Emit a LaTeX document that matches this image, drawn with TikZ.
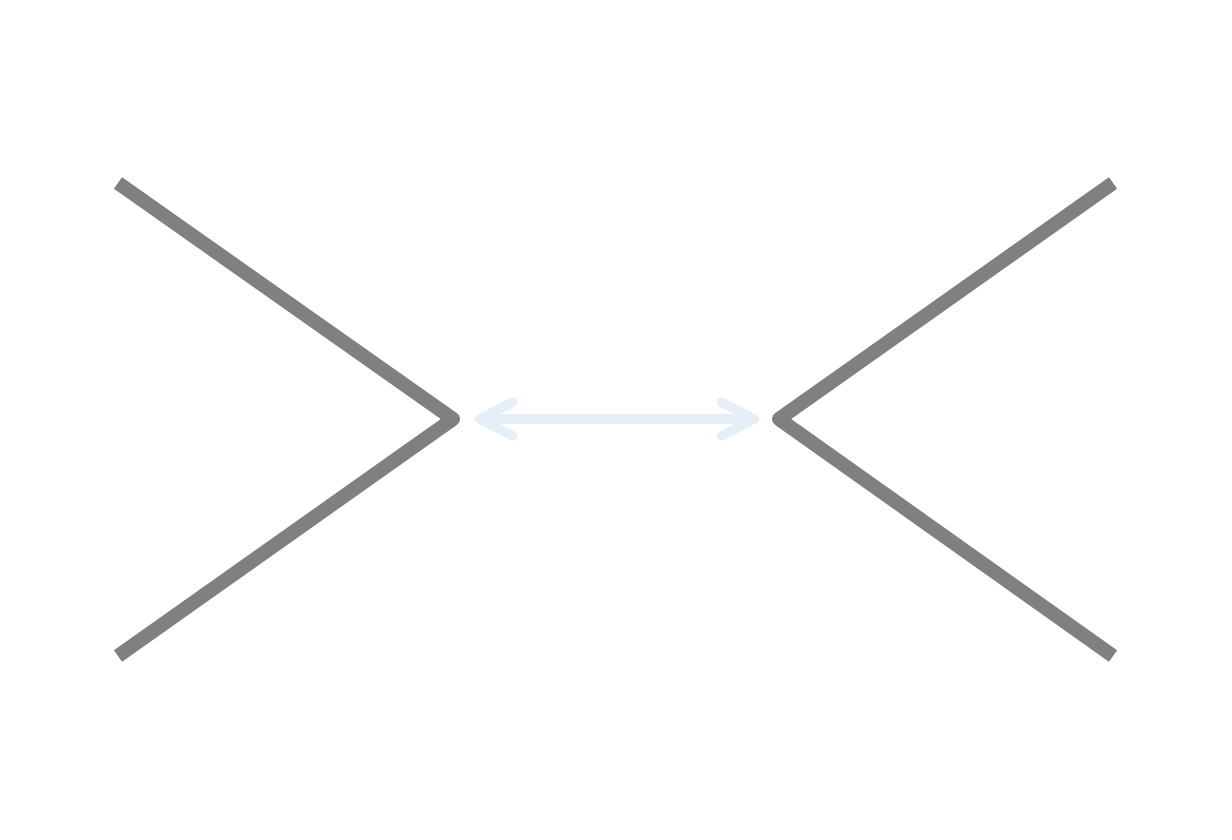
\documentclass[tikz,border=0pt]{standalone}
\usetikzlibrary{arrows.meta}
\definecolor{wall}{RGB}{128,128,128}
\definecolor{gap}{RGB}{230,239,248}
\begin{document}
\begin{tikzpicture}[x=1pt,y=-1pt,
  wedge/.style={draw=wall,line width=14pt,line join=round,line cap=butt},
  barb/.tip={Straight Barb[length=33pt,width=34pt,line cap=round,line join=round]},
  span/.style={draw=gap,line width=9.5pt,line cap=round,barb-barb}]
\useasboundingbox (0,0) rectangle (1232,840);
% left wedge
\coordinate (la) at (118,183);
\coordinate (lt) at (453,419);
\coordinate (lb) at (118,656);
% right wedge
\coordinate (ra) at (1113,183);
\coordinate (rt) at (779,419);
\coordinate (rb) at (1113,656);
\draw[wedge] (la) -- (lt) -- (lb);
\draw[wedge] (ra) -- (rt) -- (rb);
% gap between the tips
\coordinate (gl) at (475,419);
\coordinate (gr) at (759,419);
\draw[span] (gl) -- (gr);
\end{tikzpicture}
\end{document}
